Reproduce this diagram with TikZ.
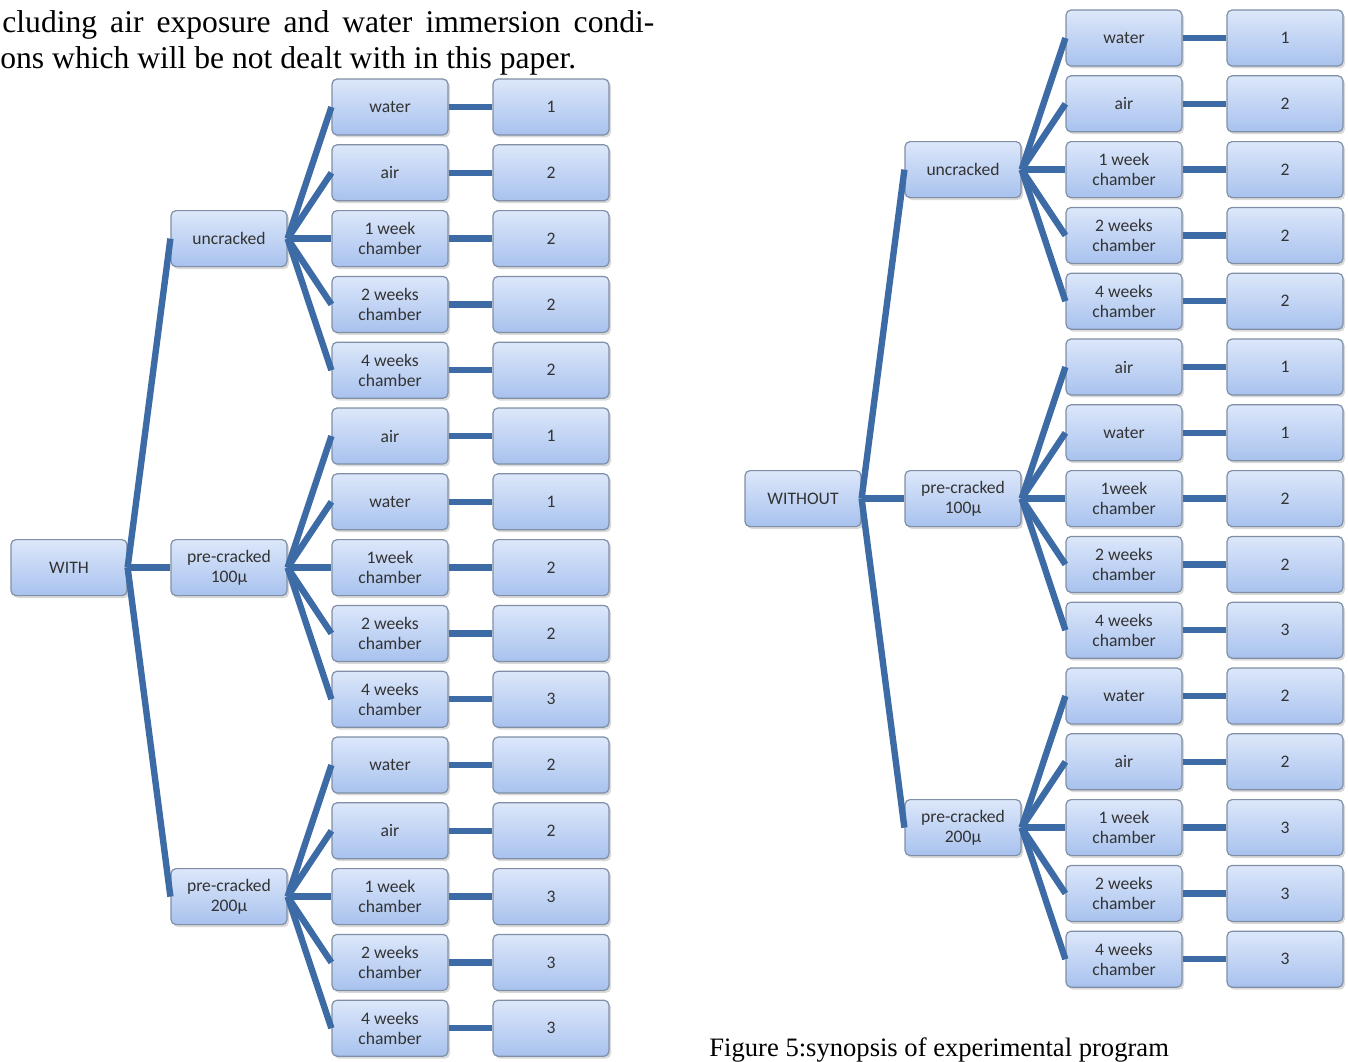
\documentclass[tikz,border=0pt]{standalone}
\usepackage{fontspec}
\setmainfont{Liberation Serif}
\newfontfamily\boxfont{Carlito}
\usetikzlibrary{shadows}
\definecolor{linkblue}{HTML}{3D6BA6}
\definecolor{boxtop}{HTML}{DCE7FA}
\definecolor{boxbot}{HTML}{A8C2EE}
\definecolor{boxrim}{HTML}{7F8FA6}
\tikzset{
  stage/.style={draw=boxrim, line width=0.6pt, rounded corners=2.5pt,
    top color=boxtop, bottom color=boxbot, minimum width=58pt, minimum height=28pt,
    inner sep=1pt, align=center, font=\boxfont\fontsize{8.8}{10}\selectfont, text=black!80,
    drop shadow={opacity=0.3, shadow xshift=1pt, shadow yshift=-1.2pt}},
  link/.style={draw=linkblue, line width=3.2pt},
}

\begin{document}
\begin{tikzpicture}[x=0.5pt, y=-0.5pt]
\useasboundingbox (0,0) rectangle (1348,1061);
% running text and caption
\node[anchor=base west, inner sep=0, font=\fontsize{15.8}{18}\selectfont] (intro1) at (2,32)
  {\makebox[326pt][s]{cluding air exposure and water immersion condi-}};
\node[anchor=base west, inner sep=0, font=\fontsize{15.8}{18}\selectfont] (intro2) at (0,68)
  {ons which will be not dealt with in this paper.};
\node[anchor=base west, inner sep=0, font=\fontsize{13.3}{15}\selectfont] (caption) at (709,1056)
  {Figure 5:synopsis of experimental program};
% the two trees
\foreach \side/\dx/\dy/\rootlab in {l/0/0/WITH, r/734/-69/WITHOUT}{
  \node[stage] (\side-root) at ({69+\dx},{\dy+107+7*65.8}) {\rootlab};
  \foreach \k/\row/\lab in {1/3/uncracked, 2/8/{pre-cracked\\100µ}, 3/13/{pre-cracked\\200µ}}{
    \node[stage] (\side-grp\k) at ({229+\dx},{\dy+107+(\row-1)*65.8}) {\lab};
    \draw[link] (\side-root.east) -- (\side-grp\k.west);
  }
  \foreach \i/\lab/\num in {1/water/1, 2/air/2, 3/{1 week\\chamber}/2, 4/{2 weeks\\chamber}/2,
      5/{4 weeks\\chamber}/2, 6/air/1, 7/water/1, 8/{1week\\chamber}/2, 9/{2 weeks\\chamber}/2,
      10/{4 weeks\\chamber}/3, 11/water/2, 12/air/2, 13/{1 week\\chamber}/3,
      14/{2 weeks\\chamber}/3, 15/{4 weeks\\chamber}/3}{
    \node[stage] (\side-cond\i) at ({390+\dx},{\dy+107+(\i-1)*65.8}) {\lab};
    \node[stage] (\side-num\i) at ({551+\dx},{\dy+107+(\i-1)*65.8}) {\num};
    \draw[link] (\side-cond\i.east) -- (\side-num\i.west);
    \pgfmathtruncatemacro\grp{int((\i-1)/5)+1}
    \draw[link] (\side-grp\grp.east) -- (\side-cond\i.west);
  }
}
\end{tikzpicture}
\end{document}
